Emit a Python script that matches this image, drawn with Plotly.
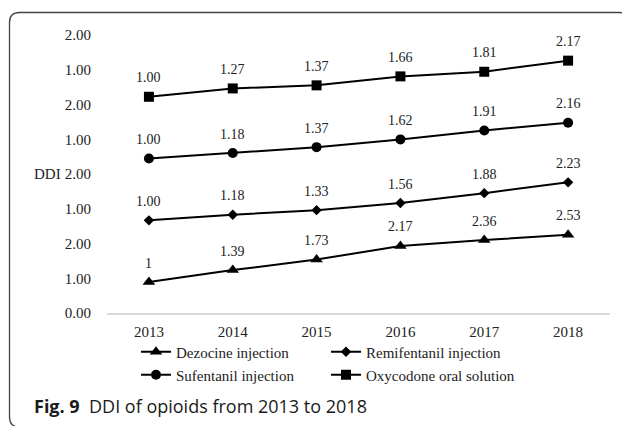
import plotly.graph_objects as go

# ---------------- data ----------------
years = ["2013", "2014", "2015", "2016", "2017", "2018"]
series_names = ["Dezocine injection", "Remifentanil injection",
                "Sufentanil injection", "Oxycodone oral solution"]
dezocine = [1, 1.39, 1.73, 2.17, 2.36, 2.53]
remifentanil = [1.00, 1.18, 1.33, 1.56, 1.88, 2.23]
sufentanil = [1.00, 1.18, 1.37, 1.62, 1.91, 2.16]
oxycodone = [1.00, 1.27, 1.37, 1.66, 1.81, 2.17]
ytick_text = ["0.00", "1.00", "2.00", "1.00", "2.00", "1.00", "2.00", "1.00", "2.00"]

# ---------------- layout constants ----------------
OFF = 8                      # page body margin in the browser
PAGE_W, PAGE_H = 630, 426
W, H = PAGE_W - OFF, PAGE_H - OFF
PL, PR, PT, PB = 107, 610, 35, 313      # plot area in page pixels
ML, MT = PL - OFF, PT - OFF
MR, MB = PAGE_W - PR, PAGE_H - PB
PW, PH = PR - PL, PB - PT
BAND = 2.0          # vertical offset between stacked panels
TICKSTEP = 1.125    # axis units between labelled ticks
SERIF = "Liberation Serif, Times New Roman, serif"


def px_x(px):
    return (px - PL) / PW


def px_y(py):
    return (PB - py) / PH


values = [dezocine, remifentanil, sufentanil, oxycodone]
symbols = ["triangle-up", "diamond", "circle", "square"]
sizes = [11, 8, 10, 10]
labels = [[f"{v:g}" for v in dezocine]] + [[f"{v:.2f}" for v in s] for s in values[1:]]
legend_ids = ["legend", "legend2", "legend3", "legend4"]
legend_pos = [(136, 352), (326, 352), (136, 375), (326, 375)]

fig = go.Figure()
annotations = []
for i, (name, vals) in enumerate(zip(series_names, values)):
    ys = [v + BAND * i for v in vals]
    fig.add_trace(go.Scatter(
        x=years, y=ys, name=name, mode="lines+markers",
        line=dict(color="black", width=2),
        marker=dict(symbol=symbols[i], size=sizes[i], color="black"),
        legend=legend_ids[i], cliponaxis=False, hoverinfo="skip",
    ))
    for j, (y, t) in enumerate(zip(ys, labels[i])):
        annotations.append(dict(
            x=j, y=y, xref="x", yref="y", text=t, showarrow=False,
            yshift=19, yanchor="middle", xanchor="center",
            font=dict(family=SERIF, size=14, color="#222"),
        ))

annotations.append(dict(
    x=px_x(63), y=4 * TICKSTEP, xref="paper", yref="y", text="DDI",
    showarrow=False, xanchor="right", yanchor="middle",
    font=dict(family=SERIF, size=15, color="#222"),
))
annotations.append(dict(
    x=px_x(32), y=px_y(406), xref="paper", yref="paper",
    text="<b>Fig. 9</b>\u00a0\u00a0DDI of opioids from 2013 to 2018",
    showarrow=False, xanchor="left", yanchor="middle",
    font=dict(family="Open Sans, Noto Sans, sans-serif", size=18, color="#1a1a1a"),
))

legend_common = dict(orientation="v", xanchor="left", yanchor="middle",
                     bgcolor="rgba(0,0,0,0)", borderwidth=0,
                     font=dict(family=SERIF, size=15, color="#222"))
layout_legends = {}
for lid, (lx, ly) in zip(legend_ids, legend_pos):
    layout_legends[lid] = dict(x=px_x(lx), y=px_y(ly), **legend_common)

# rounded frame (page pixel coordinates)
L, T, R, B, r = 9.5, 12.5, 629.0, 427, 10
pts = [
    f"M{px_x(L+r)},{px_y(T)}", f"L{px_x(R-r)},{px_y(T)}",
    f"Q{px_x(R)},{px_y(T)} {px_x(R)},{px_y(T+r)}",
    f"L{px_x(R)},{px_y(B-r)}", f"Q{px_x(R)},{px_y(B)} {px_x(R-r)},{px_y(B)}",
    f"L{px_x(L+r)},{px_y(B)}", f"Q{px_x(L)},{px_y(B)} {px_x(L)},{px_y(B-r)}",
    f"L{px_x(L)},{px_y(T+r)}", f"Q{px_x(L)},{px_y(T)} {px_x(L+r)},{px_y(T)}", "Z",
]
frame = dict(type="path", xref="paper", yref="paper", path=" ".join(pts),
             line=dict(color="#444", width=1.3), layer="below")

fig.update_layout(
    width=W, height=H,
    margin=dict(l=ML, r=MR, t=MT, b=MB, pad=0, autoexpand=False),
    paper_bgcolor="white", plot_bgcolor="white",
    showlegend=True,
    annotations=annotations,
    shapes=[frame],
    xaxis=dict(
        type="category", range=[-0.5, 5.5], showgrid=False, zeroline=False,
        showline=True, linecolor="#d9d9d9", linewidth=1.5,
        ticks="", ticklabelstandoff=4,
        tickfont=dict(family=SERIF, size=15, color="#222"),
    ),
    yaxis=dict(
        range=[0, 9], showgrid=False, zeroline=False, showline=False,
        tickvals=[i * TICKSTEP for i in range(len(ytick_text))],
        ticktext=ytick_text, ticks="", ticklabelstandoff=15,
        tickfont=dict(family=SERIF, size=15, color="#222"),
    ),
    **layout_legends,
)

fig.write_html("out.html")
